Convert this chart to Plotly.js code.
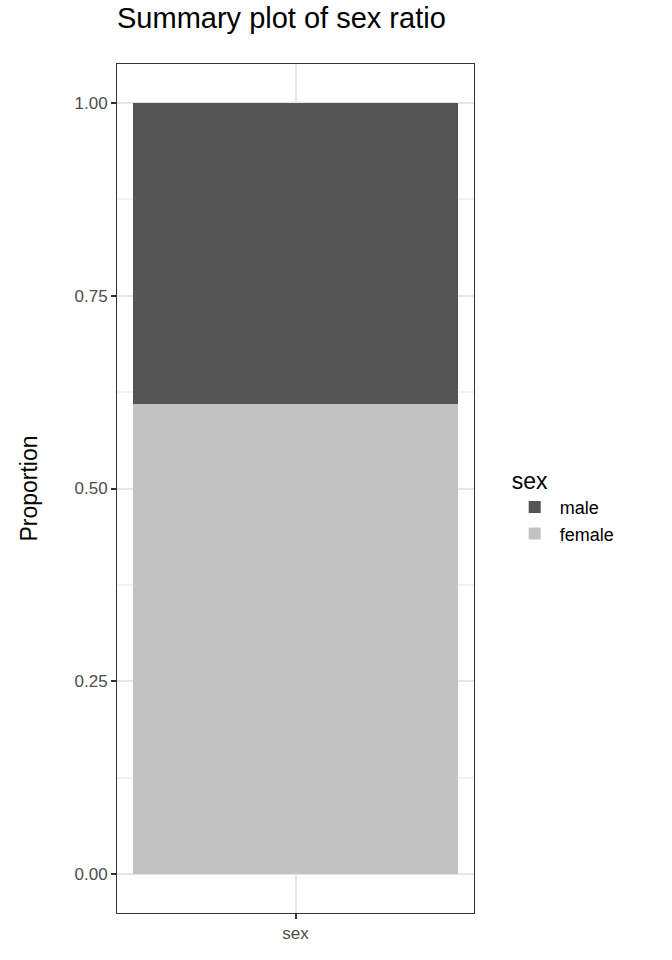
<!DOCTYPE html>
<html>
<head>
<meta charset="utf-8">
<script src="https://cdn.plot.ly/plotly-3.0.1.min.js"></script>
<style>body{margin:0;background:#fff}</style>
</head>
<body>
<div id="chart" style="width:672px;height:960px"></div>
<script>
var category = ['sex'];
var female = [0.61];
var male = [0.39];

var traces = [
	{x: category, y: female, name: 'female', type: 'bar', width: 1, marker: {color: '#c2c2c2'}, hoverinfo: 'y+name'},
	{x: category, y: male, name: 'male', type: 'bar', width: 1, marker: {color: '#545454'}, hoverinfo: 'y+name'}
];

var axisLine = {showline: true, mirror: true, linecolor: '#333', linewidth: 1, gridcolor: '#e6e6e6', gridwidth: 1.5,
	ticks: 'outside', ticklen: 5, tickwidth: 1.5, tickcolor: '#333', tickfont: {size: 17, color: '#4d4d4d'}, zeroline: false};

var layout = {
	width: 672, height: 960,
	margin: {l: 117, r: 198, t: 64, b: 47},
	font: {family: 'Liberation Sans, Arial, sans-serif', color: '#000'},
	title: {text: 'Summary plot of sex ratio', font: {size: 29}, x: 117 / 672, xanchor: 'left', y: 0.992, yanchor: 'top'},
	barmode: 'stack',
	bargap: 0,
	plot_bgcolor: '#fff',
	xaxis: Object.assign({}, axisLine, {range: [-0.55, 0.55], type: 'category'}),
	yaxis: Object.assign({}, axisLine, {range: [-0.05, 1.05], tickvals: [0, 0.25, 0.5, 0.75, 1],
		ticktext: ['0.00', '0.25', '0.50', '0.75', '1.00'],
		minor: {tickvals: [0.125, 0.375, 0.625, 0.875], showgrid: true, gridcolor: '#f2f2f2', ticks: ''},
		title: {text: 'Proportion', font: {size: 23}, standoff: 30}}),
	legend: {x: 1.1, xanchor: 'left', y: 0.48, yanchor: 'middle', traceorder: 'reversed',
		title: {text: 'sex', font: {size: 23}}, font: {size: 18}, itemwidth: 40, tracegroupgap: 0}
};

Plotly.newPlot('chart', traces, layout, {displayModeBar: false});
</script>
</body>
</html>
